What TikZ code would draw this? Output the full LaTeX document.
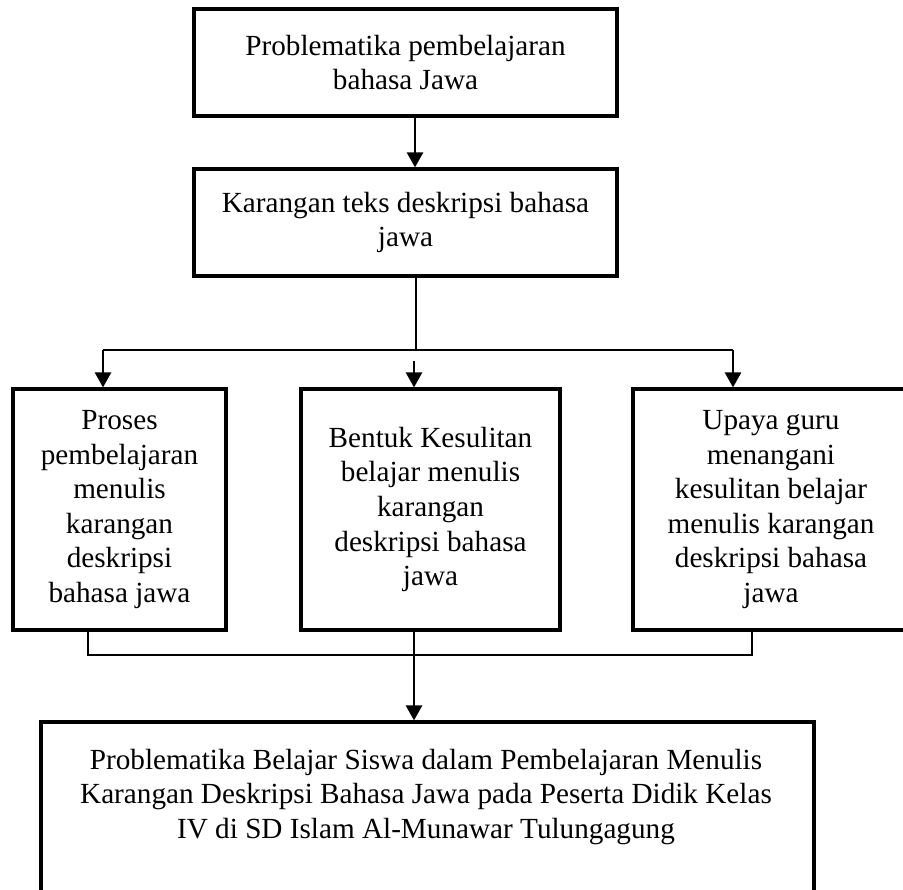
\documentclass[tikz,border=0pt]{standalone}
\usepackage{fontspec}
\setmainfont{Liberation Serif}
\usetikzlibrary{arrows.meta}
\begin{document}
\begin{tikzpicture}[x=0.5pt,y=-0.5pt,>={Triangle[length=7.5pt,width=8pt]},every node/.style={font=\fontsize{14.6pt}{17.3pt}\selectfont},box/.style={rectangle, draw, line width=1.6pt, align=center, inner sep=0pt},column/.style={box, minimum height=120.5pt},arrow/.style={->, line width=1.3pt},link/.style={line width=0.7pt}]
\useasboundingbox (0,0) rectangle (903,889);
\clip (0,0) rectangle (903,889);
\node[box] [minimum width=211.5pt, minimum height=53.5pt] at (405.5,62.5) (masalah) {Problematika pembelajaran\\bahasa Jawa};
\node[box] [minimum width=211.5pt, minimum height=53.5pt] at (405.5,222.5) (karangan) {Karangan teks deskripsi bahasa\\jawa};
\node[column] [minimum width=106.5pt] at (119.5,509.5) (proses) {Proses\\pembelajaran\\menulis\\karangan\\deskripsi\\bahasa jawa};
\node[column] [minimum width=129.5pt] at (430.5,509.5) (bentuk) {Bentuk Kesulitan\\belajar menulis\\karangan\\deskripsi bahasa\\jawa};
\node[column] [minimum width=138pt] at (771,509.5) (upaya) {Upaya guru\\menangani\\kesulitan belajar\\menulis karangan\\deskripsi bahasa\\jawa};
\node[box] [minimum width=386.5pt, minimum height=139pt] at (427.5,861) (hasil) {};
\node[align=center] at (426,797) (hasilteks) {Problematika Belajar Siswa dalam Pembelajaran Menulis\\Karangan Deskripsi Bahasa Jawa pada Peserta Didik Kelas\\IV di SD Islam Al-Munawar Tulungagung};

\coordinate (atas) at (415,0);
\coordinate (cabang) at (416,350);
\coordinate (kiri) at (103,350);
\coordinate (kanan) at (733,350);
\coordinate (tengah) at (414,361);
\coordinate (gabungkiri) at (88,655);
\coordinate (gabungkanan) at (752,655);
\coordinate (gabung) at (414,655);

					\draw[arrow] (masalah.south -| atas) -- (karangan.north -| atas);
					\draw[link] [line width=0.9pt] (karangan.south -| cabang) -- (cabang);
					\draw[link] (kiri) -- (kanan);
					\draw[arrow] (kiri) -- (proses.north -| kiri);
					\draw[arrow] (tengah) -- (bentuk.north -| tengah);
					\draw[arrow] (kanan) -- (upaya.north -| kanan);

					\draw[link] (proses.south -| gabungkiri) -- (gabungkiri) -- (gabungkanan) -- (upaya.south -| gabungkanan);
					\draw[arrow] (bentuk.south -| gabung) -- (hasil.north -| gabung);
				\end{tikzpicture}
\end{document}
